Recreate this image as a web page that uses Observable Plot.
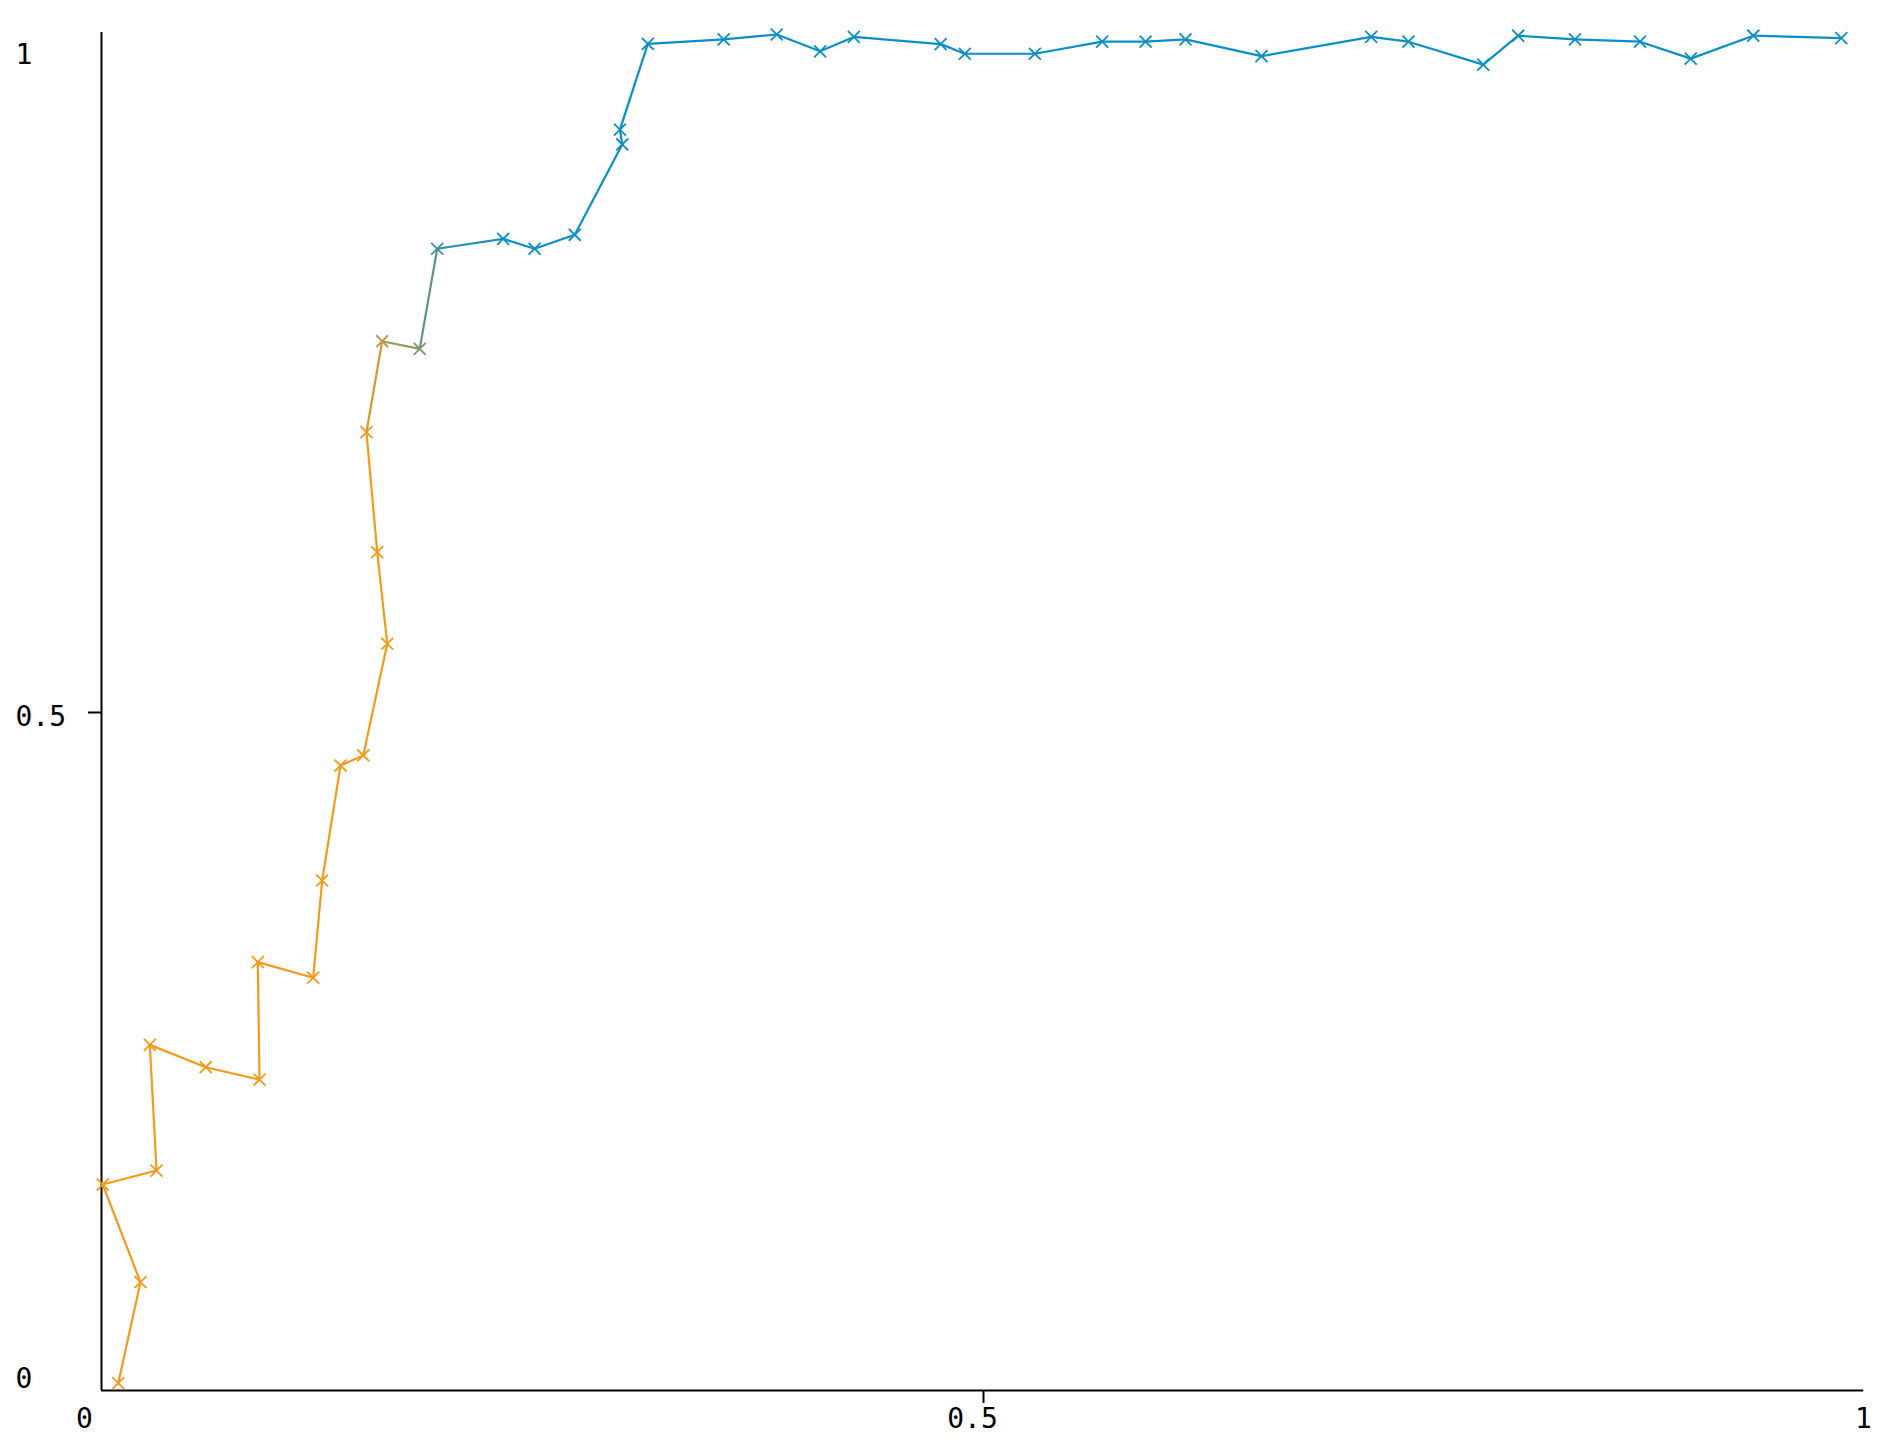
<!DOCTYPE html>
<html>
<head>
<meta charset="utf-8">
<script src="https://cdn.jsdelivr.net/npm/d3@7"></script>
<script src="https://cdn.jsdelivr.net/npm/@observablehq/plot@0.6"></script>
<style>
  html, body { margin: 0; padding: 0; background: #ffffff; }
  #chart svg { display: block; }
</style>
</head>
<body>
<div id="chart"></div>
<script>
// Point coordinates, in drawing order
const xs = [0.0095, 0.0221, 0.0007, 0.0312, 0.0274, 0.0591, 0.0896, 0.0886, 0.1200, 0.1251,
            0.1355, 0.1484, 0.1620, 0.1563, 0.1502, 0.1591, 0.1804, 0.1903, 0.2277, 0.2455,
            0.2683, 0.2952, 0.2939, 0.3097, 0.3527, 0.3828, 0.4074, 0.4265, 0.4757, 0.4894,
            0.5291, 0.5673, 0.5919, 0.6145, 0.6576, 0.7198, 0.7409, 0.7833, 0.8031, 0.8353,
            0.8722, 0.9009, 0.9364, 0.9863];
const ys = [0.0054, 0.0799, 0.1519, 0.1622, 0.2549, 0.2384, 0.2293, 0.3159, 0.3044, 0.3761,
            0.4609, 0.4683, 0.5507, 0.6182, 0.7067, 0.7738, 0.7682, 0.8420, 0.8493, 0.8420,
            0.8523, 0.9189, 0.9299, 0.9931, 0.9964, 1.0000, 0.9876, 0.9982, 0.9929, 0.9858,
            0.9858, 0.9947, 0.9947, 0.9964, 0.9840, 0.9982, 0.9947, 0.9778, 0.9991, 0.9964,
            0.9947, 0.9822, 0.9991, 0.9973];
// Tick labels
const xTicks = [0, 0.5, 1];
const yTicks = [0, 0.5, 1];

const ORANGE = "#f59a1b";
const BLUE = "#0b8fc6";

const points = xs.map((x, i) => ({x, y: ys[i], i}));
const segments = points.slice(1).map((p, k) => ({
  x1: points[k].x, y1: points[k].y, x2: p.x, y2: p.y, t: k + 0.5
}));

const font = "'DejaVu Sans Mono', 'Liberation Mono', monospace";

const chart = Plot.plot({
  width: 1890,
  height: 1448,
  marginLeft: 101,
  marginRight: 25,
  marginTop: 34,
  marginBottom: 58,
  style: {background: "#ffffff", fontFamily: font, fontSize: "28px", color: "#000", overflow: "visible"},
  x: {domain: [0, 1], axis: null},
  y: {domain: [0, 1], axis: null},
  color: {type: "linear", domain: [14, 18], range: [ORANGE, BLUE], interpolate: "rgb", clamp: true},
  marks: [
    // axis lines
    Plot.ruleX([0], {stroke: "#000", strokeWidth: 2, y1: 1.0015, y2: 0}),
    Plot.ruleY([0], {stroke: "#000", strokeWidth: 2, x1: 0, x2: 0.999}),
    // tick marks at 0.5
    Plot.axisY([0.5], {tickSize: 13, tickFormat: () => "", stroke: "#000", strokeWidth: 2}),
    Plot.axisX([0.5], {tickSize: 13, tickFormat: () => "", stroke: "#000", strokeWidth: 2}),
    // y tick labels (left-aligned)
    Plot.text([yTicks[2]], {y: d => d, text: d => String(d), frameAnchor: "left", dx: -86, dy: 21, textAnchor: "start", fill: "#000", fontSize: 28}),
    Plot.text([yTicks[1]], {y: d => d, text: d => String(d), frameAnchor: "left", dx: -86, dy: 5, textAnchor: "start", fill: "#000", fontSize: 28}),
    Plot.text([yTicks[0]], {y: d => d, text: d => String(d), frameAnchor: "left", dx: -86, dy: -11, textAnchor: "start", fill: "#000", fontSize: 28}),
    // x tick labels
    Plot.text([xTicks[0]], {x: d => d, text: d => String(d), frameAnchor: "bottom", dx: -17, dy: 37, fill: "#000", fontSize: 28}),
    Plot.text([xTicks[1]], {x: d => d, text: d => String(d), frameAnchor: "bottom", dx: -11, dy: 37, fill: "#000", fontSize: 28}),
    Plot.text([xTicks[2]], {x: d => d, text: d => String(d), frameAnchor: "bottom", dx: -2, dy: 37, fill: "#000", fontSize: 28}),
    // connecting line
    Plot.link(segments, {x1: "x1", y1: "y1", x2: "x2", y2: "y2", stroke: "t", strokeWidth: 2.2, strokeLinecap: "round"}),
    // markers
    Plot.dot(points, {x: "x", y: "y", stroke: "i", symbol: "times", r: 5.5, strokeWidth: 1.8})
  ]
});

document.getElementById("chart").appendChild(chart);
</script>
</body>
</html>
